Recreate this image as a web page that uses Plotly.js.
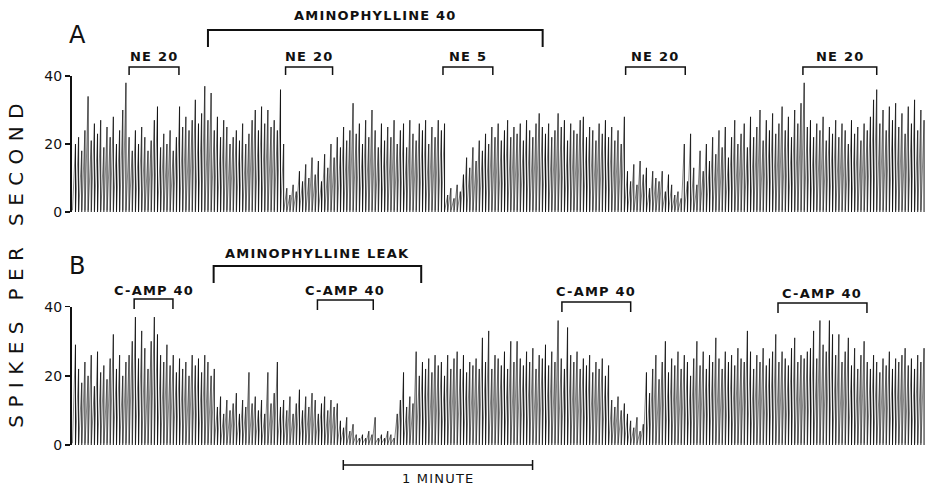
<!DOCTYPE html>
<html>
<head>
<meta charset="utf-8">
<script src="https://cdn.plot.ly/plotly-3.0.1.min.js"></script>
<style>
html,body{margin:0;padding:0;background:#fff;}
#chart{width:927px;height:486px;}
.annotation-text{letter-spacing:1.2px;}
.annotation[data-index="0"] .annotation-text{letter-spacing:7.4px;}
</style>
</head>
<body>
<div id="chart"></div>
<script>
// ---- Data: spike counts per second (one value per 1-s bin) ----
const panelA_rate = [
  20,22,18,24,34,21,26,23,27,19,
  25,22,28,20,24,30,38,22,18,24,
  20,25,22,18,21,27,31,19,23,20,
  24,18,22,31,25,28,24,27,33,26,
  29,37,27,35,24,28,22,27,25,20,
  22,24,21,26,20,23,27,30,24,31,
  26,30,25,27,24,36,20,
  7,5,8,6,12,9,14,10,16,
  11,15,9,17,13,20,16,
  22,19,25,21,24,32,23,
  26,20,27,22,30,24,19,26,21,25,
  22,27,20,24,26,19,27,23,21,26,
  24,27,20,25,22,27,24,26,
  5,7,4,8,6,
  11,16,13,19,15,21,
  18,23,20,25,22,26,21,24,27,22,25,
  23,26,21,27,24,22,26,29,25,23,
  26,22,24,29,25,27,21,26,24,23,
  27,28,22,25,24,21,26,23,27,22,
  25,21,24,20,28,
  12,9,14,8,15,11,13,7,12,10,
  9,12,6,11,8,5,6,4,20,
  9,23,13,8,18,12,20,15,22,17,
  24,19,25,16,22,27,20,23,26,19,
  28,22,25,30,21,27,24,29,23,26,
  31,24,28,22,30,26,32,38,25,27,
  22,26,24,28,21,25,23,27,22,26,
  24,20,27,23,25,21,26,24,28,33,
  36,26,30,24,31,27,32,25,29,23,
  31,26,33,24,30,27
];
const panelB_rate = [
  29,22,18,24,20,26,17,27,21,23,
  19,25,32,22,26,20,24,26,30,37,
  25,33,28,22,30,37,32,26,24,29,
  23,26,21,25,22,24,20,26,23,25,
  21,26,24,20,22,
  11,14,9,13,10,12,15,9,13,11,21,12,14,10,13,
  9,21,12,15,24,11,13,10,14,9,
  12,16,10,14,11,15,13,9,12,14,10,13,11,12,
  7,5,8,4,6,3,
  2,3,2,4,3,8,2,3,2,4,3,2,
  9,13,21,11,14,12,
  27,20,24,22,25,21,26,23,24,20,26,22,
  25,27,22,26,21,24,23,25,22,31,
  24,33,22,26,25,23,27,22,30,24,
  30,25,23,27,24,28,22,26,25,29,
  23,27,24,36,25,22,34,26,24,27,
  22,25,23,26,21,24,22,25,20,23,
  13,11,14,10,12,9,
  7,5,8,4,6,21,
  15,22,26,19,24,30,21,25,23,27,
  22,26,24,20,25,30,23,27,22,26,
  24,31,25,22,27,24,26,23,28,25,
  24,33,27,22,26,24,28,23,25,27,
  32,24,27,25,23,28,31,24,26,25,
  27,28,33,25,36,29,27,36,32,26,
  32,24,27,31,23,28,22,26,30,24,
  22,26,24,21,25,23,27,22,25,24,
  26,28,23,25,22,26,24,28
];
const yTicks = [0, 20, 40];

// Treatment periods (seconds from start of record)
const treatA_label = ["NE 20", "NE 20", "NE 5", "NE 20", "NE 20"];
const treatA_start = [17.4, 67.0, 116.9, 174.8, 231.0];
const treatA_end   = [33.2, 81.9, 132.7, 193.7, 254.4];
const longA_label = "AMINOPHYLLINE 40";
const longA_start = 42.4, longA_end = 148.5;

const treatB_label = ["C-AMP 40", "C-AMP 40", "C-AMP 40", "C-AMP 40"];
const treatB_start = [19.0, 77.1, 154.6, 223.1];
const treatB_end   = [31.3, 94.8, 176.4, 251.3];
const longB_label = "AMINOPHYLLINE LEAK";
const longB_start = 44.2, longB_end = 110.0;

const scaleBar_start = 85.3, scaleBar_len = 60, scaleBar_label = "1 MINUTE";

// ---- Layout helpers ----
const W = 927, H = 486;
const px = x => x / W;
const py = y => (H - y) / H;

// Rate-meter look: integrator ramps up through each 1-s bin (grey), then resets (dark vertical).
function rampTrace(vals, xa, ya) {
  const xs = [], ys = [];
  vals.forEach((v, i) => { xs.push(i - 0.55, i + 0.4, null); ys.push(0.5, v, null); });
  return {type: 'scatter', mode: 'lines', x: xs, y: ys, xaxis: xa, yaxis: ya,
          line: {color: '#7a7a7a', width: 0.9}, hoverinfo: 'skip', cliponaxis: false, showlegend: false};
}
function resetTrace(vals, xa, ya) {
  const xs = [], ys = [];
  vals.forEach((v, i) => { xs.push(i + 0.4, i + 0.4, null); ys.push(0, v, null); });
  return {type: 'scatter', mode: 'lines', x: xs, y: ys, xaxis: xa, yaxis: ya,
          line: {color: '#141414', width: 1}, hoverinfo: 'skip', cliponaxis: false, showlegend: false};
}

const n = panelA_rate.length;
const xr = [-0.7, n - 0.3];
const tickFont = {family: 'DejaVu Sans', size: 14, color: '#111'};
const yAxisBase = {range: [0, 40], anchor: 'free', position: px(70), tickvals: yTicks,
  ticks: 'outside', ticklen: 5, tickwidth: 1.5, tickcolor: '#111', showline: true, linewidth: 1.6,
  linecolor: '#111', showgrid: false, zeroline: false, tickfont: tickFont, fixedrange: true};

const shapes = [], annotations = [];
const lblFont = {family: 'DejaVu Sans', size: 13, color: '#111', weight: 'bold'};

// y-axis title first (index 0)
annotations.push({text: 'SPIKES PER SECOND', xref: 'paper', yref: 'paper', x: px(16), y: py(262),
  textangle: -90, showarrow: false, xanchor: 'center', yanchor: 'middle',
  font: {family: 'DejaVu Sans', size: 20, color: '#111'}});

function bracket(x0, x1, xref, yTop, yBot, w) {
  shapes.push({type: 'path', xref: xref, yref: 'paper',
    path: `M ${x0},${py(yBot)} L ${x0},${py(yTop)} L ${x1},${py(yTop)} L ${x1},${py(yBot)}`,
    line: {color: '#111', width: w}});
}
function label(text, xc, xref, yc, font) {
  annotations.push({text: text, xref: xref, yref: 'paper', x: xc, y: py(yc), showarrow: false,
    xanchor: 'center', yanchor: 'middle', font: font});
}

// Panel A brackets
treatA_label.forEach((t, i) => {
  bracket(treatA_start[i], treatA_end[i], 'x', 67, 75, 1.5);
  label(t, (treatA_start[i] + treatA_end[i]) / 2, 'x', 57, lblFont);
});
bracket(longA_start, longA_end, 'x', 30, 47, 2);
label(longA_label, (longA_start + longA_end) / 2, 'x', 15, lblFont);

// Panel B brackets
const bTop = [299, 300, 302, 303], bLbl = [290, 290, 292, 293];
treatB_label.forEach((t, i) => {
  bracket(treatB_start[i], treatB_end[i], 'x2', bTop[i], bTop[i] + 10, 1.5);
  label(t, (treatB_start[i] + treatB_end[i]) / 2, 'x2', bLbl[i], lblFont);
});
bracket(longB_start, longB_end, 'x2', 266, 283, 2);
label(longB_label, (longB_start + longB_end) / 2, 'x2', 254, lblFont);

// Scale bar
const sb0 = scaleBar_start, sb1 = scaleBar_start + scaleBar_len;
shapes.push({type: 'path', xref: 'x2', yref: 'paper',
  path: `M ${sb0},${py(460)} L ${sb0},${py(470)} M ${sb0},${py(465)} L ${sb1},${py(465)} M ${sb1},${py(460)} L ${sb1},${py(470)}`,
  line: {color: '#111', width: 1.5}});
label(scaleBar_label, (sb0 + sb1) / 2, 'x2', 478, {family: 'DejaVu Sans', size: 13, color: '#111'});

// Panel letters
annotations.push({text: 'A', xref: 'paper', yref: 'paper', x: px(67), y: py(35), xanchor: 'left', yanchor: 'middle',
  showarrow: false, font: {family: 'DejaVu Sans', size: 24, color: '#111'}});
annotations.push({text: 'B', xref: 'paper', yref: 'paper', x: px(67), y: py(266), xanchor: 'left', yanchor: 'middle',
  showarrow: false, font: {family: 'DejaVu Sans', size: 24, color: '#111'}});

const layout = {
  width: W, height: H, margin: {l: 0, r: 0, t: 0, b: 0, pad: 0},
  paper_bgcolor: '#fff', plot_bgcolor: 'rgba(0,0,0,0)', showlegend: false,
  xaxis: {domain: [px(72), px(925)], range: xr, visible: false, anchor: 'y', fixedrange: true},
  xaxis2: {domain: [px(72), px(925)], range: xr, visible: false, anchor: 'y2', fixedrange: true},
  yaxis: Object.assign({domain: [py(212), py(76)]}, yAxisBase),
  yaxis2: Object.assign({domain: [py(445), py(306.7)]}, yAxisBase),
  shapes: shapes, annotations: annotations
};

Plotly.newPlot('chart', [
  rampTrace(panelA_rate, 'x', 'y'), resetTrace(panelA_rate, 'x', 'y'),
  rampTrace(panelB_rate, 'x2', 'y2'), resetTrace(panelB_rate, 'x2', 'y2')
], layout, {displayModeBar: false, staticPlot: true});
</script>
</body>
</html>
